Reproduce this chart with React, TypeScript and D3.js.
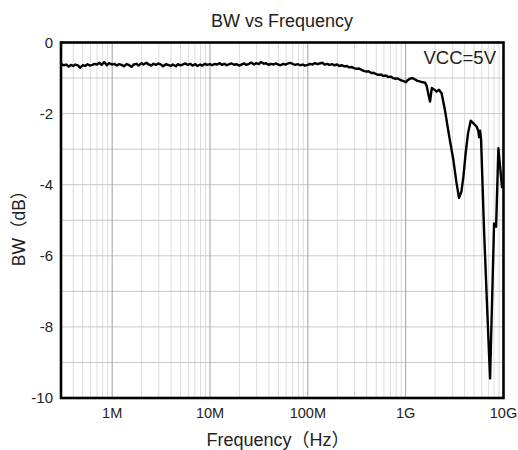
import React from 'react';
import * as d3 from 'd3';

// frequency points in MHz
const freqMHz = [
  0.30, 0.32, 0.34, 0.36, 0.38, 0.40, 0.42, 0.45, 0.47, 0.50,
  0.53, 0.56, 0.59, 0.63, 0.66, 0.70, 0.74, 0.78, 0.83, 0.88,
  0.93, 1.00, 1.05, 1.12, 1.17, 1.25, 1.32, 1.40, 1.48, 1.58,
  1.66, 1.78, 1.86, 2.00, 2.09, 2.24, 2.34, 2.51, 2.63, 2.82,
  2.95, 3.16, 3.31, 3.55, 3.72, 3.98, 4.17, 4.47, 4.68, 5.01,
  5.25, 5.62, 5.89, 6.31, 6.61, 7.08, 7.41, 7.94, 8.32, 8.91,
  9.33, 10.0, 10.5, 11.2, 11.7, 12.6, 13.2, 14.1, 14.8, 15.8,
  16.6, 17.8, 18.6, 20.0, 20.9, 22.4, 23.4, 25.1, 26.3, 28.2,
  29.5, 31.6, 33.1, 35.5, 37.2, 39.8, 41.7, 44.7, 46.8, 50.1,
  52.5, 56.2, 58.9, 63.1, 66.1, 70.8, 74.1, 79.4, 83.2, 89.1,
  93.3, 100, 105, 112, 117, 126, 132, 141, 148, 158,
  166, 178, 186, 200, 209, 224, 234, 251, 263, 282,
  295, 316, 331, 355, 372, 398, 417, 447, 468, 501,
  525, 562, 589, 631, 661, 708, 741, 794, 832, 891,
  933, 980, 1000, 1050, 1100, 1170, 1245, 1320, 1450, 1580,
  1640, 1720, 1775, 1850, 1950, 2070, 2190, 2330, 2520, 2770,
  3070, 3310, 3510, 3710, 3900, 4110, 4340, 4620, 4910, 5330,
  5540, 5630, 5760, 5900, 6330, 6790, 7290, 8010, 8400, 8870,
  9230, 9680,
];

const bwDb = [
  -0.60, -0.64, -0.62, -0.68, -0.63, -0.66, -0.62, -0.65, -0.71, -0.64,
  -0.66, -0.61, -0.65, -0.63, -0.60, -0.62, -0.57, -0.63, -0.55, -0.64,
  -0.58, -0.62, -0.60, -0.65, -0.61, -0.63, -0.67, -0.61, -0.63, -0.69,
  -0.62, -0.60, -0.65, -0.58, -0.62, -0.57, -0.61, -0.65, -0.60, -0.63,
  -0.59, -0.62, -0.67, -0.61, -0.63, -0.66, -0.62, -0.67, -0.61, -0.64,
  -0.62, -0.59, -0.63, -0.60, -0.65, -0.61, -0.66, -0.62, -0.65, -0.60,
  -0.63, -0.61, -0.64, -0.60, -0.62, -0.58, -0.63, -0.60, -0.64, -0.61,
  -0.59, -0.63, -0.61, -0.65, -0.62, -0.59, -0.63, -0.60, -0.56, -0.62,
  -0.58, -0.61, -0.55, -0.60, -0.58, -0.63, -0.60, -0.62, -0.59, -0.62,
  -0.64, -0.60, -0.62, -0.59, -0.57, -0.61, -0.63, -0.61, -0.64, -0.62,
  -0.65, -0.63, -0.60, -0.62, -0.58, -0.61, -0.59, -0.57, -0.62, -0.60,
  -0.63, -0.61, -0.64, -0.62, -0.66, -0.64, -0.67, -0.66, -0.70, -0.69,
  -0.72, -0.74, -0.73, -0.77, -0.80, -0.82, -0.81, -0.86, -0.85, -0.89,
  -0.91, -0.90, -0.94, -0.93, -0.97, -0.96, -1.00, -1.02, -1.01, -1.06,
  -1.08, -1.10, -1.12, -1.06, -1.02, -1.00, -1.04, -1.08, -1.11, -1.13,
  -1.22, -1.50, -1.66, -1.28, -1.32, -1.38, -1.33, -1.43, -1.90, -2.60,
  -3.30, -3.95, -4.37, -4.20, -3.75, -3.10, -2.55, -2.20, -2.27, -2.37,
  -2.50, -2.66, -2.48, -2.74, -5.30, -7.40, -9.45, -5.09, -5.18, -2.97,
  -3.49, -4.10,
];

const yTickValues = [0, -2, -4, -6, -8, -10];
const xTickValues = [1e6, 1e7, 1e8, 1e9, 1e10];
const xTickLabels = ['1M', '10M', '100M', '1G', '10G'];

const W = 518;
const H = 450;
const left = 61;
const right = 503.5;
const top = 42.5;
const bottom = 398;
const font = '"Liberation Sans", Arial, "Noto Sans CJK SC", sans-serif';

export default function App() {
  const x = d3.scaleLog().domain([3e5, 1e10]).range([left, right]);
  const y = d3.scaleLinear().domain([-10, 0]).range([bottom, top]);

  const pts: [number, number][] = freqMHz.map((f, i) => [f * 1e6, bwDb[i]]);
  const line = d3.line<[number, number]>()
    .x(d => x(d[0]))
    .y(d => y(d[1]))
    .curve(d3.curveLinear);

  const vGrid = x.ticks();
  const isDecade = (v: number) => Math.abs(Math.log10(v) - Math.round(Math.log10(v))) < 1e-6;
  const hGrid = y.ticks(10);

  return (
    <svg width={W} height={H} style={{ position: 'absolute', left: 0, top: 0, background: '#fff' }}
      fontFamily={font}>
      <rect x={0} y={0} width={W} height={H} fill="#fff" />
      {vGrid.filter(v => !isDecade(v)).map((v, i) => (
        <line key={'vm' + i} x1={x(v)} x2={x(v)} y1={top} y2={bottom} stroke="#dcdcdc" strokeWidth={1} />
      ))}
      {hGrid.map((v, i) => (
        <line key={'h' + i} x1={left} x2={right} y1={y(v)} y2={y(v)} stroke="#c8c8c8" strokeWidth={1} />
      ))}
      {vGrid.filter(v => isDecade(v)).map((v, i) => (
        <line key={'vM' + i} x1={x(v)} x2={x(v)} y1={top} y2={bottom} stroke="#a0a0a0" strokeWidth={1} />
      ))}
      <path d={line(pts) || ''} fill="none" stroke="#000" strokeWidth={2.4} strokeLinejoin="round" />
      <rect x={left} y={top} width={right - left} height={bottom - top} fill="none" stroke="#000" strokeWidth={2.6} />
      {yTickValues.map(v => (
        <text key={'yt' + v} x={53} y={y(v)} dy="0.35em" textAnchor="end" fontSize={15} fill="#222">{v}</text>
      ))}
      {xTickValues.map((v, i) => (
        <text key={'xt' + i} x={x(v)} y={418} textAnchor="middle" fontSize={14.5} fill="#222">{xTickLabels[i]}</text>
      ))}
      <text x={282} y={27} textAnchor="middle" fontSize={18} fill="#222">BW vs Frequency</text>
      <text x={278} y={446} textAnchor="middle" fontSize={18} fill="#222">Frequency（Hz）</text>
      <text transform={`translate(25,224) rotate(-90)`} textAnchor="middle" fontSize={17.5} fill="#222">BW（dB）</text>
      <text x={496} y={64} textAnchor="end" fontSize={18.5} fill="#222">VCC=5V</text>
    </svg>
  );
}
